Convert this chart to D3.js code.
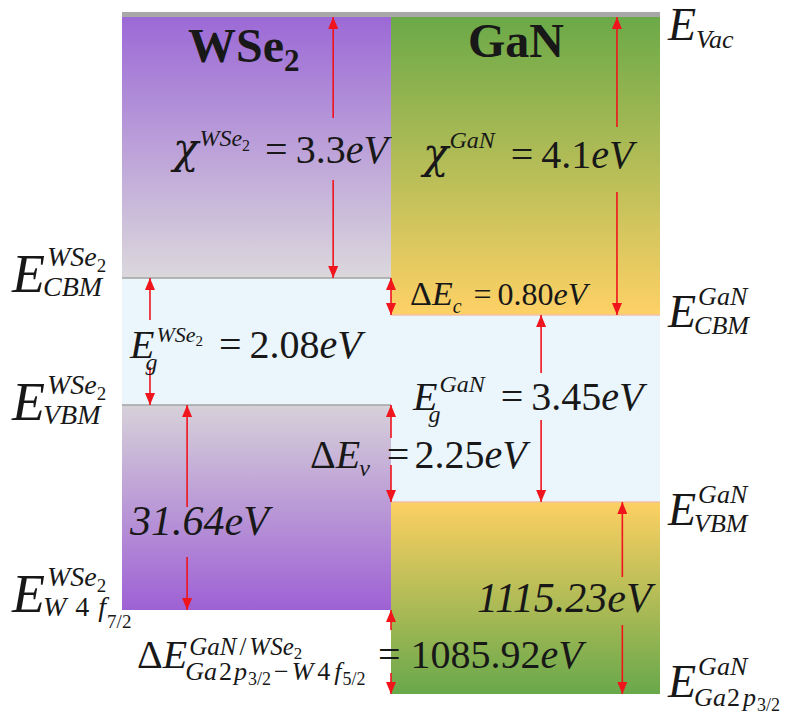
<!DOCTYPE html>
<html>
<head>
<meta charset="utf-8">
<script src="https://cdn.jsdelivr.net/npm/d3@7"></script>
<style>
  html, body { margin: 0; padding: 0; background: #fff; }
  svg { display: block; }
  text { font-family: "Liberation Serif", "Times New Roman", serif; fill: #181818; }
</style>
</head>
<body>
<svg id="chart" width="790" height="721"></svg>
<script>
// WSe2 / GaN heterojunction band alignment (energies in eV)
const materials = ["WSe2", "GaN"];
const electronAffinity = [3.3, 4.1];      // vacuum level -> CBM
const bandGap = [2.08, 3.45];             // CBM -> VBM
const coreToVBM = [31.64, 1115.23];       // VBM -> core level (W 4f7/2, Ga 2p3/2)
const coreLevelDiff = 1085.92;            // Ga 2p3/2 - W 4f5/2 across the interface
const conductionOffset = 0.80;            // ΔEc
const valenceOffset = 2.25;               // ΔEv

// Level energies relative to vacuum
const cbm = electronAffinity.map(v => -v);
const vbm = cbm.map((v, i) => v - bandGap[i]);
const core = vbm.map((v, i) => v - coreToVBM[i]);

const svg = d3.select("#chart");
const defs = svg.append("defs");

// Schematic energy axis: every level gets its own tier (axis is broken between tiers)
const levels = [0, ...cbm, ...vbm, ...core].sort(d3.descending);
const tiers = [17, 278, 315, 405, 502, 610, 694];
const y = d3.scaleLinear().domain(levels).range(tiers);
const x = d3.scaleBand().domain(materials).range([122, 660]).padding(0);
const bw = x.bandwidth();

// Fill gradients for each material
const palette = {
  WSe2: { upper: ["#9c69d6", "#dbd8dc"], lower: ["#d6d1d9", "#9e61d4"] },
  GaN:  { upper: ["#6ba948", "#fed166"], lower: ["#fdd062", "#68a84b"] }
};
function gradient(id, c0, c1) {
  const g = defs.append("linearGradient").attr("id", id)
    .attr("x1", 0).attr("y1", 0).attr("x2", 0).attr("y2", 1);
  g.append("stop").attr("offset", 0).attr("stop-color", c0);
  g.append("stop").attr("offset", 1).attr("stop-color", c1);
}
materials.forEach(m => {
  gradient(`up-${m}`, ...palette[m].upper);
  gradient(`lo-${m}`, ...palette[m].lower);
});

const bands = materials.map((m, i) => ({ m, i }));
const blocks = svg.append("g");

// band gap region
blocks.selectAll("rect.gap").data(bands).join("rect").attr("class", "gap")
  .attr("x", d => x(d.m)).attr("width", bw)
  .attr("y", d => y(cbm[d.i])).attr("height", d => y(vbm[d.i]) - y(cbm[d.i]))
  .attr("fill", "#eaf5fc");
// vacuum level -> CBM
blocks.selectAll("rect.upper").data(bands).join("rect").attr("class", "upper")
  .attr("x", d => x(d.m)).attr("width", bw)
  .attr("y", y(0)).attr("height", d => y(cbm[d.i]) - y(0))
  .attr("fill", d => `url(#up-${d.m})`);
// VBM -> core level
blocks.selectAll("rect.lower").data(bands).join("rect").attr("class", "lower")
  .attr("x", d => x(d.m)).attr("width", bw)
  .attr("y", d => y(vbm[d.i])).attr("height", d => y(core[d.i]) - y(vbm[d.i]))
  .attr("fill", d => `url(#lo-${d.m})`);
// vacuum level bar
blocks.append("rect")
  .attr("x", x.range()[0]).attr("width", x.range()[1] - x.range()[0])
  .attr("y", y(0) - 5).attr("height", 5).attr("fill", "#a8a8a8");
// band edge lines
const edgeColor = { WSe2: "#a3a3a3", GaN: "#f2c0a6" };
bands.forEach(d => {
  [cbm[d.i], vbm[d.i]].forEach(e => {
    blocks.append("line")
      .attr("x1", x(d.m)).attr("x2", x(d.m) + bw)
      .attr("y1", y(e)).attr("y2", y(e))
      .attr("stroke", edgeColor[d.m]).attr("stroke-width", 1.3);
  });
});

// Arrows
const red = "#f0141c";
defs.append("marker").attr("id", "head")
  .attr("markerUnits", "userSpaceOnUse")
  .attr("viewBox", "0 0 12 10").attr("refX", 12).attr("refY", 5)
  .attr("markerWidth", 12).attr("markerHeight", 10)
  .attr("orient", "auto-start-reverse")
  .append("path").attr("d", "M0,0 L12,5 L0,10 Z").attr("fill", red);

const interfaceX = x("GaN");
const arrowLayout = [
  { m: "WSe2", f: 0.785, from: 0, to: cbm[0], gap: [118, 180] },
  { m: "GaN", f: 0.84, from: 0, to: cbm[1], gap: [127, 192] },
  { from: cbm[0], to: cbm[1] },
  { m: "WSe2", f: 0.104, from: cbm[0], to: vbm[0], gap: [320, 367] },
  { m: "GaN", f: 0.558, from: cbm[1], to: vbm[1], gap: [373, 420] },
  { from: vbm[0], to: vbm[1], gap: [438, 465] },
  { m: "WSe2", f: 0.242, from: vbm[0], to: core[0], gap: [507, 557] },
  { m: "GaN", f: 0.86, from: vbm[1], to: core[1], gap: [577, 625] },
  { from: core[0], to: core[1], gap: [630, 673] }
];
const arrows = svg.append("g").attr("stroke", red).attr("stroke-width", 1.6);
arrowLayout.forEach(a => {
  const ax = a.m ? x(a.m) + a.f * bw : interfaceX;
  if (a.gap) {
    arrows.append("line").attr("x1", ax).attr("x2", ax)
      .attr("y1", a.gap[0]).attr("y2", y(a.from)).attr("marker-end", "url(#head)");
    arrows.append("line").attr("x1", ax).attr("x2", ax)
      .attr("y1", a.gap[1]).attr("y2", y(a.to)).attr("marker-end", "url(#head)");
  } else {
    arrows.append("line").attr("x1", ax).attr("x2", ax)
      .attr("y1", y(a.from)).attr("y2", y(a.to))
      .attr("marker-start", "url(#head)").attr("marker-end", "url(#head)");
  }
});

// Math-style text: runs of pieces, with stacked super/subscripts
const labels = svg.append("g");
function run(g, x0, y0, pieces) {
  let cx = x0;
  pieces.forEach(p => {
    cx += p.dx || 0;
    const t = g.append("text").attr("x", cx).attr("y", y0 + (p.dy || 0))
      .attr("font-size", p.s)
      .attr("font-style", p.it ? "italic" : "normal")
      .attr("font-weight", p.b ? "bold" : "normal")
      .text(p.t);
    if (p.ff) t.style("font-family", p.ff);
    cx += t.node().getComputedTextLength();
  });
  return cx - x0;
}
function math(x0, y0, tokens) {
  const g = labels.append("g");
  let cx = x0;
  tokens.forEach(tk => {
    if (tk.at !== undefined) cx = tk.at;
    if (tk.stack) {
      let w = 0;
      tk.stack.forEach(p => { w = Math.max(w, run(g, cx, y0, p)); });
      cx += w;
    } else {
      cx += run(g, cx, y0, [tk]);
    }
  });
}
const I = (t, s, dy = 0, dx = 0) => ({ t, s, it: true, dy, dx });
const R = (t, s, dy = 0, dx = 0) => ({ t, s, it: false, dy, dx });
const B = (t, s, dy = 0, dx = 0) => ({ t, s, b: true, dy, dx });
const chi = s => ({ t: "χ", s, it: true, ff: "'DejaVu Serif', serif" });
const f1 = d3.format(".1f"), f2 = d3.format(".2f");

// Material titles
math(188, 62, [B("WSe", 48), B("2", 31, 9)]);
math(468, 57, [B("GaN", 48)]);

// χ (electron affinity)
math(173, 163, [chi(42), { stack: [[I("WSe", 24, -17, 1), R("2", 16, -12)]] },
  R("=", 40, 0, 15), R(f1(electronAffinity[0]), 40, 0, 8), I("eV", 40)]);
math(423, 168, [chi(42), { stack: [[I("GaN", 24, -20, 1)]] },
  R("=", 40, 0, 16), R(f1(electronAffinity[1]), 40, 0, 8), I("eV", 40)]);

// ΔEc
math(410, 305, [R("Δ", 34), I("E", 34), { stack: [[I("c", 20, 8, 0)]] },
  R("=", 32, 0, 12), R(f2(conductionOffset), 32, 0, 6), I("eV", 32)]);

// band gaps
math(130, 358, [I("E", 40), { stack: [[I("WSe", 22, -16, 2), R("2", 15, -12)], [I("g", 24, 12, -9)]] },
  R("=", 40, 0, 16), R(f2(bandGap[0]), 40, 0, 8), I("eV", 40)]);
math(413, 410, [I("E", 40), { stack: [[I("GaN", 24, -18, 2)], [I("g", 24, 12, -9)]] },
  R("=", 40, 0, 16), R(f2(bandGap[1]), 40, 0, 8), I("eV", 40)]);

// ΔEv
math(310, 468, [R("Δ", 40), I("E", 40), { stack: [[I("v", 24, 8, -1)]] },
  R("=", 40, 0, 17), R(f2(valenceOffset), 40, 0, 5), I("eV", 40)]);

// core level to VBM
math(130, 535, [I(f2(coreToVBM[0]) + "eV", 42)]);
math(477, 612, [I(f2(coreToVBM[1]) + "eV", 42)]);

// core level difference across the interface
math(137, 668, [R("Δ", 40), I("E", 40),
  { stack: [
    [I("GaN", 25, -13, 2), R("/", 25, -13, 3), I("WSe", 25, -13, 3), R("2", 17, -9)],
    [I("Ga", 26, 12, -2), R("2", 26, 12, 2), I("p", 26, 12, 2), R("3/2", 18, 17, 1),
     R("−", 26, 12, 3), I("W", 26, 12, 3), R("4", 26, 12, 4), I("f", 26, 12, 4), R("5/2", 18, 17, 1)]
  ] },
  { ...R("=", 40), at: 378 }, R(f2(coreLevelDiff), 40, 0, 10), I("eV", 40)]);

// level names, WSe2 side
math(12, 292, [I("E", 54), { stack: [[I("WSe", 28, -26, 2), R("2", 19, -20)], [I("CBM", 28, 4, -2)]] }]);
math(12, 420, [I("E", 54), { stack: [[I("WSe", 28, -26, 2), R("2", 19, -20)], [I("VBM", 28, 4, -2)]] }]);
math(12, 612, [I("E", 54), { stack: [[I("WSe", 28, -26, 2), R("2", 19, -20)],
  [I("W", 28, 4, -2), R("4", 28, 4, 9), I("f", 28, 4, 9), R("7/2", 19, 16, 1)]] }]);

// level names, GaN side
math(668, 40, [I("E", 46), { stack: [[I("Vac", 26, 8, 0)]] }]);
math(668, 327, [I("E", 46), { stack: [[I("GaN", 26, -22, 2)], [I("CBM", 26, 7, -2)]] }]);
math(668, 525, [I("E", 46), { stack: [[I("GaN", 26, -22, 2)], [I("VBM", 26, 7, -2)]] }]);
math(668, 697, [I("E", 46), { stack: [[I("GaN", 26, -22, 2)],
  [I("Ga", 26, 9, -2), R("2", 26, 9, 1), I("p", 26, 9, 3), R("3/2", 18, 14, 1)]] }]);
</script>
</body>
</html>
